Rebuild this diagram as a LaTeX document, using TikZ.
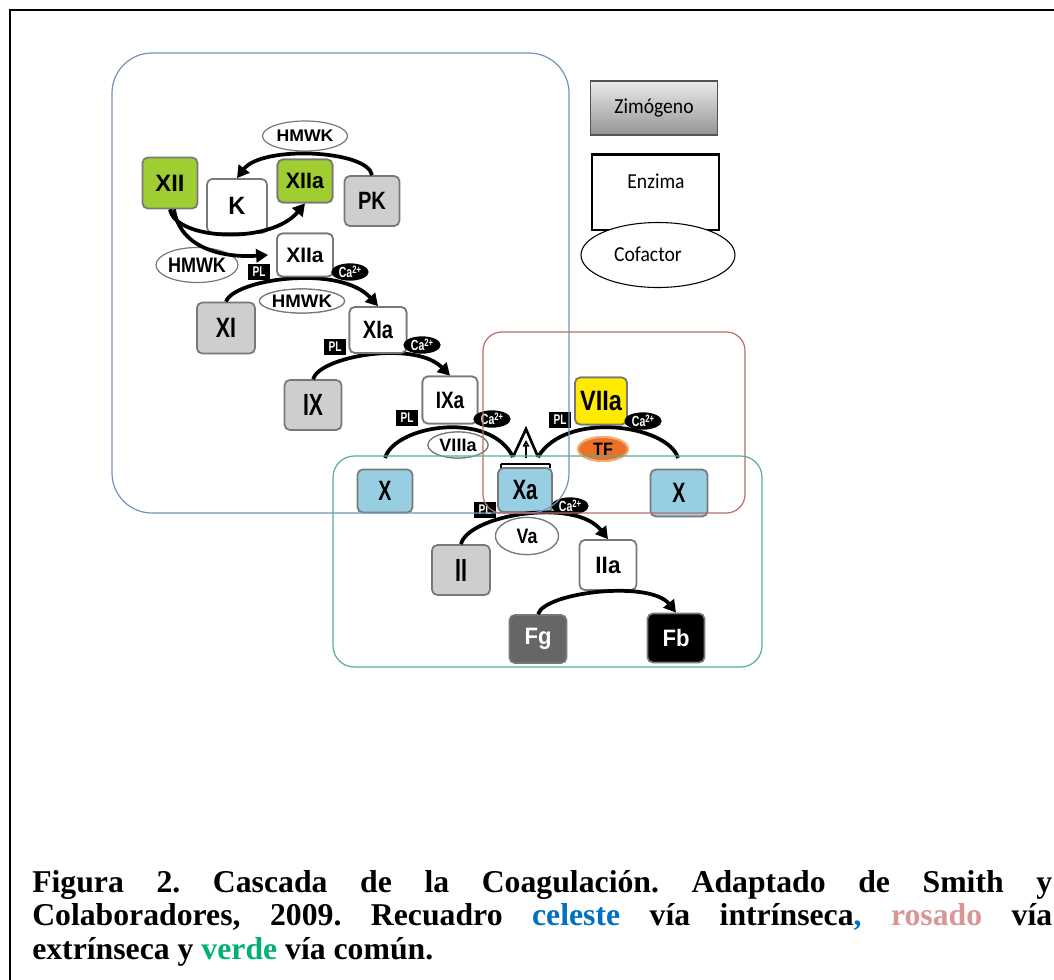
\documentclass[tikz,border=0pt]{standalone}
\usepackage{fontspec}
\usepackage{graphicx}
\usetikzlibrary{shapes.geometric,arrows.meta}
\newfontfamily\nfont{Liberation Sans}
\newfontfamily\legfont{Carlito}
\newfontfamily\capfont{Liberation Serif}
\definecolor{zgray}{RGB}{206,206,206}
\definecolor{bord}{RGB}{120,120,120}
\definecolor{lime}{RGB}{160,205,50}
\definecolor{xblue}{RGB}{152,206,226}
\definecolor{vyellow}{RGB}{255,234,0}
\definecolor{tforange}{RGB}{236,112,40}
\definecolor{tfedge}{RGB}{246,172,120}
\definecolor{fggray}{RGB}{102,102,102}
\definecolor{regblue}{RGB}{118,146,186}
\definecolor{regpink}{RGB}{186,108,108}
\definecolor{reggreen}{RGB}{86,178,136}
\definecolor{celeste}{RGB}{0,112,192}
\definecolor{rosado}{RGB}{217,150,148}
\definecolor{verde}{RGB}{0,176,116}
\newcommand\nlab[3]{\scalebox{#2}[1]{\nfont\bfseries\fontsize{#1}{#1}\selectfont #3}}
\newcommand\leglab[1]{\scalebox{0.92}[1]{\legfont\fontsize{16}{16}\selectfont #1}}
\newcommand\caz{Ca\raisebox{0.55ex}{\fontsize{8}{8}\selectfont 2+}}
\frenchspacing
\begin{document}
\begin{tikzpicture}[x=0.75pt,y=-0.75pt,
  sz/.style 2 args={minimum width=#1*0.75pt, minimum height=#2*0.75pt},
  fbox/.style={draw=bord, line width=1.3pt, rounded corners=4pt, inner sep=0pt},
  zym/.style={fbox, fill=zgray},
  enz/.style={fbox, fill=white},
  cof/.style={ellipse, draw=bord, line width=0.9pt, fill=white, inner sep=0pt},
  pl/.style={fill=black, text=white, inner sep=0pt, minimum width=16pt, minimum height=11.5pt},
  ca/.style={ellipse, fill=black, text=white, inner sep=0pt, minimum width=28pt, minimum height=13pt},
  casc/.style={line width=2.8pt, -{Triangle[length=9pt,width=10pt]}},
  plain/.style={line width=2.8pt},
  region/.style={line width=0.9pt}]
\clip (0,0) rectangle (1054,979);
\path[use as bounding box] (0,0) rectangle (1054,979);
\fill[white] (0,0) rectangle (1054,979);

% ---------- coordinates ----------
\coordinate (xl0) at (385,458);
\coordinate (xr0) at (678,458);
\coordinate (tl) at (513,457);
\coordinate (tr) at (538,457);
\coordinate (tt) at (526,429);
\coordinate (st0) at (526,458);
\coordinate (st1) at (526,440);
\coordinate (b0) at (501,464);
\coordinate (b1) at (550,464);

% ---------- nodes ----------
\node[cof, sz={85}{30}] (hm1) at (305,136) {\nlab{12.6}{1.05}{HMWK}};
\node[zym, sz={55}{51}, fill=lime] (XII) at (170,183) {\nlab{17.8}{1.0}{XII}};
\node[zym, sz={55}{50}] (PK) at (372,201) {\nlab{18.8}{0.8}{PK}};
\node[enz, sz={60}{54}] (K) at (237,206) {\nlab{18.8}{0.94}{K}};
\node[zym, sz={55}{43}, fill=lime] (XIIag) at (305,181) {\nlab{16.7}{0.96}{XIIa}};
\node[cof, sz={80}{35}] (hm2) at (197,265) {\nlab{15.7}{0.86}{HMWK}};
\node[enz, sz={56}{43}] (XIIaw) at (305,255) {\nlab{15.7}{1.0}{XIIa}};
\node[cof, sz={80}{24}] (hm3) at (302,301) {\nlab{13.6}{1.03}{HMWK}};
\node[zym, sz={58}{51}] (XI) at (226,328) {\nlab{21}{0.76}{XI}};
\node[enz, sz={57}{46}] (XIa) at (378,330) {\nlab{18.8}{0.8}{XIa}};
\node[zym, sz={57}{50}] (IX) at (313,405) {\nlab{23}{0.69}{IX}};
\node[enz, sz={55}{47}] (IXa) at (450,400) {\nlab{17.8}{0.8}{IXa}};
\node[cof, sz={60}{26}] (VIIIa) at (458,445) {\nlab{13.5}{1.0}{VIIIa}};
\node[zym, sz={52}{47}, fill=vyellow] (VIIa) at (601,401) {\nlab{21}{0.84}{VIIa}};
\node[ellipse, fill=tforange, draw=tfedge, line width=1.5pt, inner sep=0pt, sz={50}{24}] (TF) at (603,449) {\nlab{13.5}{0.9}{TF}};
\node[zym, sz={55}{43}, fill=xblue] (Xl) at (385,491) {\nlab{21}{0.7}{X}};
\node[zym, sz={54}{44}, fill=xblue] (Xa) at (525,490) {\nlab{21}{0.73}{Xa}};
\node[zym, sz={57}{47}, fill=xblue] (Xr) at (679,493) {\nlab{21}{0.7}{X}};
\node[cof, sz={63}{37}] (Va) at (527,536) {\nlab{15.7}{0.85}{Va}};
\node[zym, sz={58}{50}] (II) at (461,570) {\nlab{24}{0.67}{II}};
\node[enz, sz={57}{50}] (IIa) at (608,565) {\nlab{17.8}{0.95}{IIa}};
\node[zym, sz={57}{48}, fill=fggray, text=white] (Fg) at (538,639) {\nlab{17.8}{0.93}{Fg}};
\node[zym, sz={57}{49}, fill=black, text=white] (Fb) at (676,638) {\nlab{17.8}{0.93}{Fb}};

% ---------- connectors ----------
\draw[casc] (PK.north) .. controls (368,150) and (262,145) .. (K.north);
\draw[casc] (XII.south) .. controls (175,240) and (270,245) .. (XIIag.south);
\draw[casc] ([xshift=3pt]XII.south) .. controls (180,248) and (222,258) .. ([xshift=-6pt]XIIaw.west);
\draw[casc] (XI.north) .. controls (234,279) and (340,264) .. (XIa.north);
\draw[casc] (IX.north) .. controls (320,356) and (415,340) .. (IXa.north);
\draw[plain] (xl0) .. controls (395,425) and (490,410) .. (tl);
\draw[plain] (xr0) .. controls (668,425) and (566,410) .. (tr);
\draw[casc] (II.north) .. controls (468,515) and (575,497) .. (IIa.north);
\draw[casc] (Fg.north) .. controls (545,592) and (650,580) .. (Fb.north);

% redraw boxes that sit on arcs
\node[zym, sz={55}{43}, fill=lime] at (XIIag) {\nlab{16.7}{0.96}{XIIa}};
\node[enz, sz={56}{43}] at (XIIaw) {\nlab{15.7}{1.0}{XIIa}};
\node[enz, sz={57}{46}] at (XIa) {\nlab{18.8}{0.8}{XIa}};
\node[enz, sz={55}{47}] at (IXa) {\nlab{17.8}{0.8}{IXa}};
\node[zym, sz={52}{47}, fill=vyellow] at (VIIa) {\nlab{21}{0.84}{VIIa}};
\node[ellipse, fill=tforange, draw=tfedge, line width=1.5pt, inner sep=0pt, sz={50}{24}] at (TF) {\nlab{13.5}{0.9}{TF}};
\node[cof, sz={60}{26}] at (VIIIa) {\nlab{13.5}{1.0}{VIIIa}};
\node[cof, sz={63}{37}] at (Va) {\nlab{15.7}{0.85}{Va}};
\node[cof, sz={80}{24}] at (hm3) {\nlab{13.6}{1.03}{HMWK}};

% merged arrow onto Xa
\draw[line width=2pt, line join=miter] (tl) -- (tt) -- (tr);
\draw[line width=1.4pt, -{Triangle[open,length=5pt,width=5pt]}] (st0) -- (st1);
\draw[line width=2.2pt] (b0) -- (b1);
\draw[line width=1pt] (b0) -- ++(0,4);
\draw[line width=1pt] (b1) -- ++(0,4);

% ---------- PL and Ca labels ----------
\node[pl] (pl1) at (259,272) {\nlab{10.5}{0.72}{PL}};
\node[ca] (ca1) at (350,272) {\nlab{11}{0.72}{\caz}};
\node[pl] (pl2) at (335,347) {\nlab{10.5}{0.72}{PL}};
\node[ca] (ca2) at (422,345) {\nlab{11}{0.72}{\caz}};
\node[pl] (pl3) at (407,418) {\nlab{10.5}{0.72}{PL}};
\node[ca] (ca3) at (492,419) {\nlab{11}{0.72}{\caz}};
\node[pl] (pl4) at (560,420) {\nlab{10.5}{0.72}{PL}};
\node[ca] (ca4) at (643,421) {\nlab{11}{0.72}{\caz}};
\node[pl] (pl5) at (485,510) {\nlab{10.5}{0.72}{PL}};
\node[ca] (ca5) at (570,506) {\nlab{11}{0.72}{\caz}};

% ---------- region boxes ----------
\draw[regblue, region, rounded corners=30pt] (112,53) rectangle (569,513);
\draw[regpink, region, rounded corners=14pt] (483,332) rectangle (745,513);
\draw[reggreen, region, rounded corners=16pt] (333,456) rectangle (762,667);

% ---------- legend ----------
\node[draw=bord!70!black, line width=0.8pt, top color=white!92!black, bottom color=black!42, sz={127}{54}, inner sep=0pt] (zim) at (654,108) {\leglab{Zimógeno}};
\node[draw=black, line width=0.9pt, fill=white, sz={127}{75}, inner sep=0pt] (enzb) at (655.5,192.5) {};
\draw[line width=2pt] (enzb.north west) -- (enzb.north east);
\node[inner sep=0pt] (enzt) at (656,181) {\leglab{Enzima}};
\node[ellipse, draw=black, line width=0.8pt, fill=white, sz={154}{65}, inner sep=0pt] (cofb) at (658,255) {};
\node[inner sep=0pt] (coft) at (648,254) {\leglab{Cofactor}};

% ---------- caption ----------
\begin{scope}[every node/.style={anchor=base west, inner sep=0pt}]
\node (c1) at (32,892) {\capfont\bfseries\fontsize{23.8}{24.75}\selectfont\makebox[765pt][s]{Figura 2. Cascada de la Coagulación. Adaptado de Smith y}};
\node (c2) at (32,925) {\capfont\bfseries\fontsize{23.8}{24.75}\selectfont\makebox[765pt][s]{Colaboradores, 2009. Recuadro \textcolor{celeste}{celeste} vía intrínseca\textcolor{celeste}{,} \textcolor{rosado}{rosado} vía}};
\node (c3) at (32,959) {\capfont\bfseries\fontsize{23.8}{24.75}\selectfont extrínseca y \textcolor{verde}{verde} vía común.};
\end{scope}

% ---------- frame ----------
\draw[line width=1.6pt] (10,10) rectangle (1090,1020);
\end{tikzpicture}
\end{document}
